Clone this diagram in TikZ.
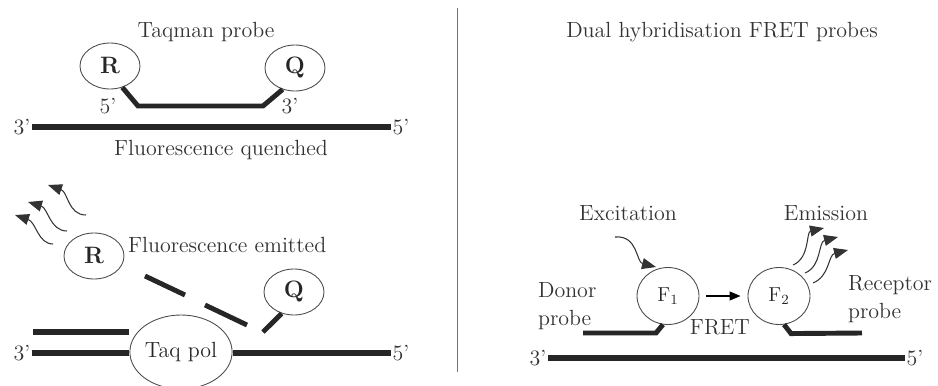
\documentclass[tikz,border=0pt]{standalone}
\usetikzlibrary{shapes.geometric, arrows.meta, positioning}

\tikzset{
  lbl/.style={font=\fontsize{12.5}{16}\selectfont, text=black!80, inner sep=1pt},
  blob/.style={ellipse, draw=black!70, line width=0.5pt, minimum width=1.2cm,
    minimum height=0.92cm, inner sep=0pt, text=black!85,
    font=\fontsize{13.5}{15}\selectfont\bfseries},
  strand/.style={line width=3.4pt, draw=black!85},
  probe/.style={line width=2.8pt, draw=black!85},
  wave/.style={line width=0.6pt, draw=black!80,
    -{Triangle[length=2.8mm,width=2.2mm]}},
}

\begin{document}
\begin{tikzpicture}[x=0.02cm, y=-0.02cm]
  \useasboundingbox (0,0) rectangle (938,386);

  % Taqman probe, intact
  \node[lbl] (ttl) at (206,32) {Taqman probe};
  \node[blob] (rtop) at (110,66) {R};
  \node[blob] (qtop) at (295,68) {Q};
  \coordinate (pa) at (138,106);
  \coordinate (pb) at (263,106);
  \draw[probe] (rtop.-60) -- (pa) -- (pb) -- (qtop.-120);
  \node[lbl] (p5) at (108,106) {5'};
  \node[lbl] (p3) at (290,106) {3'};

  \node[lbl] (t3) at (22,127) {3'};
  \node[lbl] (t5) at (401,127) {5'};
  \draw[strand] (t3.east) -- (t5.west);
  \node[lbl] (qch) at (221,150) {Fluorescence quenched};

  % divider
  \draw[black!55, line width=0.5pt] (457,8) -- (457,372);

  % Taqman probe, cleaved
  \node[blob] (rfree) at (94,256) {R};
  \node[lbl, anchor=west] (emt) at (126,245) {Fluorescence emitted};
  \node[blob] (qfree) at (294,292) {Q};
  \node[blob, minimum width=1.7cm, minimum height=1.48cm,
    font=\fontsize{12.5}{14}\selectfont] (taq) at (181,352) {Taq pol};

  \draw[wave] (53,244) .. controls (38,244) and (36,222) .. (15,215);
  \draw[wave] (67,231) .. controls (50,231) and (48,208) .. (28,202);
  \draw[wave] (86,215) .. controls (68,215) and (68,192) .. (48,185);

  \draw[probe] (145,276) -- (185,295);
  \draw[probe] (205,305) -- (247,325);
  \coordinate (qs) at (263,332);
  \draw[probe] (qs) -- (qfree.-120);

  \coordinate (d3) at (33,332);
  \draw[strand] (d3) -- (d3 -| taq.west);
  \node[lbl] (b3) at (22,353) {3'};
  \node[lbl] (b5) at (401,353) {5'};
  \draw[strand] (b3.east) -- (b3.east -| taq.west);
  \draw[strand] (b5.west -| taq.east) -- (b5.west);

  % FRET probes
  \node[lbl] (fttl) at (722,32) {Dual hybridisation FRET probes};
  \node[blob, minimum width=1.24cm, minimum height=1.14cm,
    font=\fontsize{11.5}{13}\selectfont] (fone) at (668,296) {F$_1$};
  \node[blob, minimum width=1.24cm, minimum height=1.14cm,
    font=\fontsize{11.5}{13}\selectfont] (ftwo) at (779,296) {F$_2$};
  \draw[line width=0.6pt, -{Triangle[length=2.2mm,width=1.8mm]},
    shorten <=4pt, shorten >=4pt] (fone) -- (ftwo);
  \node[lbl] (fret) at (720,327) {FRET};

  \node[lbl] (exc) at (628,213) {Excitation};
  \node[lbl] (ems) at (826,213) {Emission};
  \draw[wave] (615,237) .. controls (638,235) and (636,262) .. (656,267);
  \draw[wave] (793,265) .. controls (810,258) and (806,232) .. (824,228);
  \draw[wave] (805,273) .. controls (822,266) and (818,242) .. (838,237);
  \draw[wave] (813,283) .. controls (830,276) and (828,255) .. (848,250);

  \node[lbl, align=left, anchor=west] (dnr) at (536,306) {Donor\\probe};
  \node[lbl, align=left, anchor=west] (rcp) at (846,299) {Receptor\\probe};

  \coordinate (dn) at (583,333);
  \draw[probe] (dn) -- ++(73,0) -- (fone.-100);
  \coordinate (rc) at (862,333);
  \draw[probe] (ftwo.-80) -- ++(7,9) -- (rc);

  \node[lbl] (f3) at (538,358) {3'};
  \node[lbl] (f5) at (915,358) {5'};
  \draw[strand] (f3.east) -- (f5.west);
\end{tikzpicture}
\end{document}
